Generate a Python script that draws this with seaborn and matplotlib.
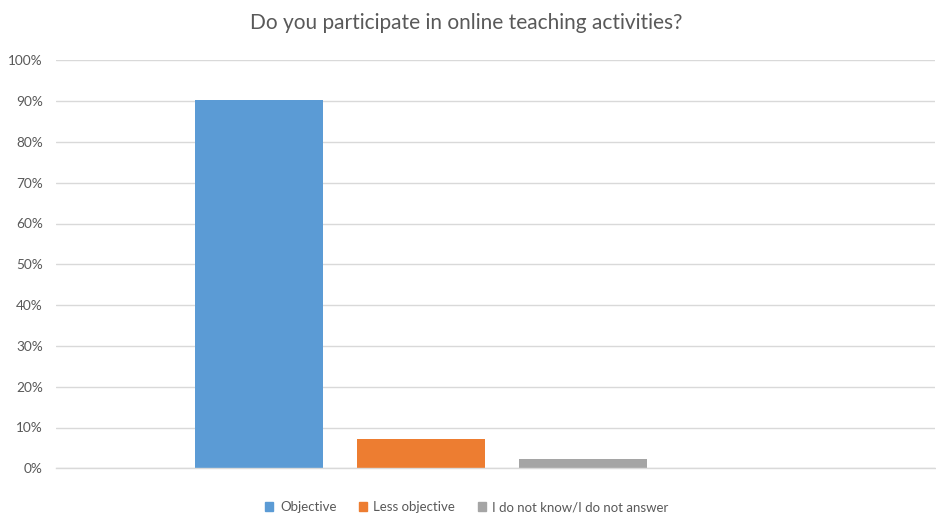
import matplotlib
matplotlib.use("Agg")
import matplotlib.pyplot as plt
import seaborn as sns
import pandas as pd
from matplotlib.ticker import PercentFormatter, MultipleLocator

question = "Do you participate in online teaching activities?"
answers = ["Objective", "Less objective", "I do not know/I do not answer"]
shares = [90.2, 7.2, 2.2]
colors = ["#5b9bd5", "#ed7d31", "#a5a5a5"]

sns.set_theme(style="white")
plt.rcParams["font.family"] = ["Lato", "DejaVu Sans"]

df = pd.DataFrame({"question": [question] * len(answers), "answer": answers, "share": shares})

W, H = 936, 518
fig = plt.figure(figsize=(W / 100, H / 100), dpi=100)
ax = fig.add_axes([56 / W, 1 - 468.3 / H, (935 - 56) / W, (468.3 - 60.3) / H])

sns.barplot(data=df, x="question", y="share", hue="answer", hue_order=answers,
            palette=colors, gap=0.21, width=0.8, saturation=1, ax=ax, legend=False)
for p in ax.patches:
    p.set_edgecolor("none")

ax.set_xlim(-0.601, 0.846)
ax.set_ylim(0, 100)
ax.yaxis.set_major_locator(MultipleLocator(10))
ax.yaxis.set_major_formatter(PercentFormatter(decimals=0))
ax.grid(axis="y", color="#d9d9d9", linewidth=1)
ax.set_axisbelow(True)
for s in ["top", "right", "left"]:
    ax.spines[s].set_visible(False)
ax.spines["bottom"].set_color("#d9d9d9")
ax.spines["bottom"].set_linewidth(1)
ax.set_xticks([])
ax.set_xlabel("")
ax.set_ylabel("")
ax.tick_params(axis="y", length=0, pad=9.4, labelsize=9.8, labelcolor="#595959")

fig.text(466 / W, 1 - 23 / H, question, ha="center", va="center",
         fontsize=15, color="#595959")

handles = [plt.Rectangle((0, 0), 1, 1, color=c) for c in colors]
fig.legend(handles, answers, loc="center", bbox_to_anchor=(467 / W, 1 - 507 / H),
           ncol=3, frameon=False, fontsize=9.5, labelcolor="#595959",
           handlelength=0.6, handleheight=0.6, handletextpad=0.5, columnspacing=1.7)

fig.savefig("out.png", dpi=100)
